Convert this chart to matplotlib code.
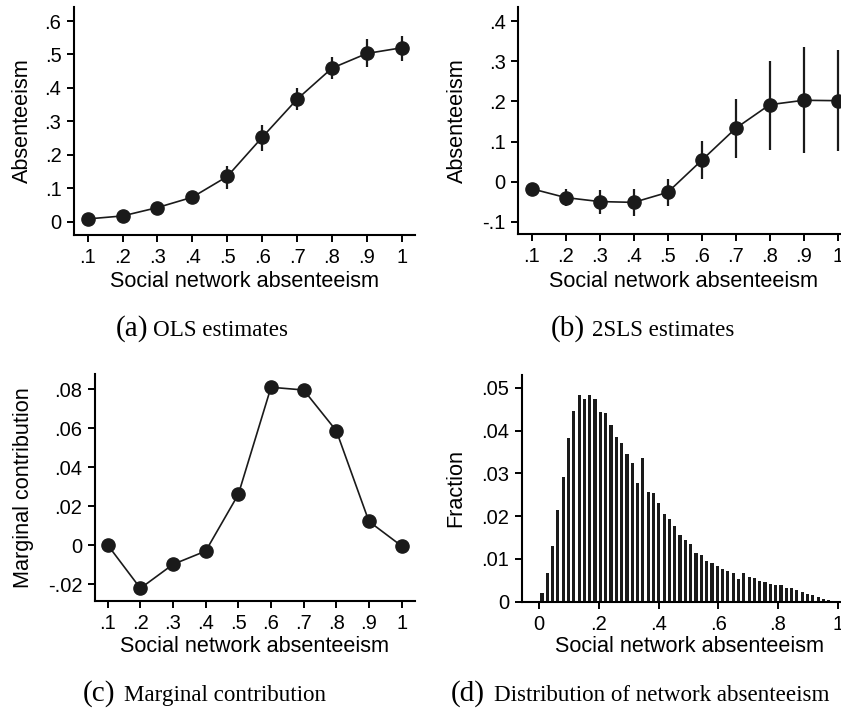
import numpy as np
import matplotlib
matplotlib.use("Agg")
import matplotlib.pyplot as plt

# ---------------- data ----------------
network_abs = [0.1, 0.2, 0.3, 0.4, 0.5, 0.6, 0.7, 0.8, 0.9, 1.0]

ols_est = [0.008, 0.017, 0.042, 0.073, 0.135, 0.252, 0.366, 0.459, 0.503, 0.520]
ols_lo = [0.004, 0.011, 0.033, 0.057, 0.099, 0.212, 0.334, 0.426, 0.463, 0.481]
ols_hi = [0.012, 0.023, 0.051, 0.090, 0.167, 0.289, 0.400, 0.491, 0.546, 0.555]

tsls_est = [-0.018, -0.040, -0.050, -0.052, -0.027, 0.053, 0.133, 0.192, 0.203, 0.202]
tsls_lo = [-0.025, -0.060, -0.080, -0.087, -0.060, 0.007, 0.060, 0.080, 0.071, 0.077]
tsls_hi = [-0.011, -0.019, -0.021, -0.018, 0.007, 0.101, 0.206, 0.300, 0.335, 0.328]

marginal = [0.000, -0.0222, -0.0099, -0.0031, 0.026, 0.0809, 0.0795, 0.0586, 0.0121, -0.0005]

hist_bin_start = 0.0
hist_bin_width = 0.0178
hist_fraction = [0.0020, 0.0068, 0.0130, 0.0215, 0.0291, 0.0383, 0.0445, 0.0483, 0.0473, 0.0484,
                 0.0473, 0.0443, 0.0441, 0.0413, 0.0385, 0.0371, 0.0346, 0.0325, 0.0277, 0.0335,
                 0.0256, 0.0253, 0.0230, 0.0206, 0.0193, 0.0176, 0.0155, 0.0144, 0.0135, 0.0113,
                 0.0110, 0.0096, 0.0090, 0.0083, 0.0076, 0.0071, 0.0066, 0.0052, 0.0066, 0.0058,
                 0.0055, 0.0049, 0.0045, 0.0041, 0.0039, 0.0040, 0.0033, 0.0031, 0.0027, 0.0023,
                 0.0019, 0.0015, 0.0011, 0.0007, 0.0003]

xticks_net = [0.1, 0.2, 0.3, 0.4, 0.5, 0.6, 0.7, 0.8, 0.9, 1.0]
xticklabels_net = [".1", ".2", ".3", ".4", ".5", ".6", ".7", ".8", ".9", "1"]
yticks_a = [0, 0.1, 0.2, 0.3, 0.4, 0.5, 0.6]
yticklabels_a = ["0", ".1", ".2", ".3", ".4", ".5", ".6"]
yticks_b = [-0.1, 0, 0.1, 0.2, 0.3, 0.4]
yticklabels_b = ["-.1", "0", ".1", ".2", ".3", ".4"]
yticks_c = [-0.02, 0, 0.02, 0.04, 0.06, 0.08]
yticklabels_c = ["-.02", "0", ".02", ".04", ".06", ".08"]
xticks_d = [0, 0.2, 0.4, 0.6, 0.8, 1.0]
xticklabels_d = ["0", ".2", ".4", ".6", ".8", "1"]
yticks_d = [0, 0.01, 0.02, 0.03, 0.04, 0.05]
yticklabels_d = ["0", ".01", ".02", ".03", ".04", ".05"]

xlabel_txt = "Social network absenteeism"

# ---------------- style ----------------
plt.rcParams['font.family'] = ['Liberation Sans', 'DejaVu Sans']
DARK = "#1a1a1a"
TICK_FS = 14.5
LABEL_FS = 15.6
W, H = 841, 712

fig = plt.figure(figsize=(W / 100, H / 100), dpi=100)


def px_axes(left, top, right, bottom):
    return fig.add_axes([left / W, 1 - bottom / H, (right - left) / W, (bottom - top) / H])


def style(ax):
    for s in ("top", "right"):
        ax.spines[s].set_visible(False)
    for s in ("left", "bottom"):
        ax.spines[s].set_linewidth(1.5)
        ax.spines[s].set_color("black")
    ax.tick_params(direction="out", length=5, width=1.4, colors="black",
                   labelsize=TICK_FS)
    ax.tick_params(axis="x", pad=4.5)
    ax.tick_params(axis="y", pad=4)
    ax.set_facecolor("none")


# Panel (a)
axa = px_axes(74, 7, 415, 235)
axa.vlines(network_abs, ols_lo, ols_hi, color=DARK, lw=1.6, zorder=2)
axa.plot(network_abs, ols_est, color=DARK, lw=1.2, marker="o", ms=9.5,
         mfc=DARK, mec=DARK, zorder=3)
axa.set_xlim(0.061, 1.038)
axa.set_ylim(-0.04, 0.642)
axa.set_xticks(xticks_net, xticklabels_net)
axa.set_yticks(yticks_a, yticklabels_a)
axa.set_xlabel(xlabel_txt, fontsize=LABEL_FS, va="center")
axa.xaxis.set_label_coords(0.5, -0.206)
axa.set_ylabel("Absenteeism", fontsize=LABEL_FS, va="center")
axa.yaxis.set_label_coords(-0.150, 0.5)
style(axa)

# Panel (b)
axb = px_axes(518.3, 7, 845, 234)
axb.vlines(network_abs, tsls_lo, tsls_hi, color=DARK, lw=1.6, zorder=2)
axb.plot(network_abs, tsls_est, color=DARK, lw=1.2, marker="o", ms=9.5,
         mfc=DARK, mec=DARK, zorder=3)
axb.set_xlim(0.0606, 1.0215)
axb.set_ylim(-0.131, 0.436)
axb.set_xticks(xticks_net, xticklabels_net)
axb.set_yticks(yticks_b, yticklabels_b)
axb.set_xlabel(xlabel_txt, fontsize=LABEL_FS, va="center")
axb.xaxis.set_label_coords(0.505, -0.210)
axb.set_ylabel("Absenteeism", fontsize=LABEL_FS, va="center")
axb.yaxis.set_label_coords(-0.186, 0.5)
style(axb)

# Panel (c)
axc = px_axes(95, 374, 415, 601)
axc.plot(network_abs, marginal, color=DARK, lw=1.2, marker="o", ms=9.5,
         mfc=DARK, mec=DARK, zorder=3)
axc.set_xlim(0.061, 1.041)
axc.set_ylim(-0.0287, 0.0877)
axc.set_xticks(xticks_net, xticklabels_net)
axc.set_yticks(yticks_c, yticklabels_c)
axc.set_xlabel(xlabel_txt, fontsize=LABEL_FS, va="center")
axc.xaxis.set_label_coords(0.5, -0.201)
axc.set_ylabel("Marginal contribution", fontsize=LABEL_FS, va="center")
axc.yaxis.set_label_coords(-0.224, 0.5)
style(axc)

# Panel (d)
axd = px_axes(521.7, 375, 845, 601.7)
centers = [hist_bin_start + (i + 0.5) * hist_bin_width for i in range(len(hist_fraction))]
axd.bar(centers, hist_fraction, width=hist_bin_width * 0.6, color=DARK,
        edgecolor="none", zorder=2)
axd.set_xlim(-0.059, 1.0245)
axd.set_ylim(0, 0.053)
axd.set_xticks(xticks_d, xticklabels_d)
axd.set_yticks(yticks_d, yticklabels_d)
axd.set_xlabel(xlabel_txt, fontsize=LABEL_FS, va="center")
axd.xaxis.set_label_coords(0.52, -0.199)
axd.set_ylabel("Fraction", fontsize=LABEL_FS, va="center")
axd.yaxis.set_label_coords(-0.2036, 0.5)
style(axd)

# Captions
SERIF = ['Liberation Serif', 'DejaVu Serif']
captions = [
    ("(a)", "OLS estimates", 148.3, 152.7, 336),
    ("(b)", "2SLS estimates", 585, 592, 336),
    ("(c)", "Marginal contribution", 115, 124.4, 701),
    ("(d)", "Distribution of network absenteeism", 485, 494, 701),
]
for tag, txt, xr, xl, yb in captions:
    fig.text(xr / W, 1 - yb / H, tag, ha="right", va="baseline",
             fontsize=21, family=SERIF)
    fig.text(xl / W, 1 - yb / H, txt, ha="left", va="baseline",
             fontsize=16.6, family=SERIF)

fig.savefig("out.png", dpi=100)
